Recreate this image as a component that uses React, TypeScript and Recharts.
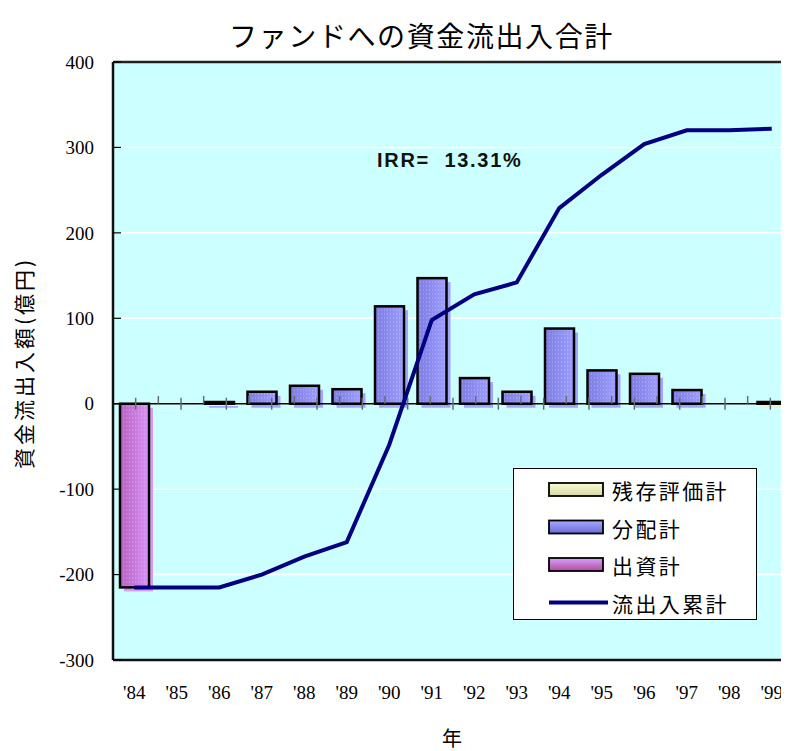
import React from "react";
import {
  ComposedChart,
  Bar,
  Line,
  XAxis,
  YAxis,
  CartesianGrid,
  ReferenceLine,
} from "recharts";

// 年 (categories)
const years = ["'84", "'85", "'86", "'87", "'88", "'89", "'90", "'91", "'92", "'93", "'94", "'95", "'96", "'97", "'98", "'99"];
// 出資計
const contributions = [-215, 0, 0, 0, 0, 0, 0, 0, 0, 0, 0, 0, 0, 0, 0, 0];
// 分配計
const distributions = [0, 0, 2, 14, 21, 17, 114, 147, 30, 14, 88, 39, 35, 16, 0, 0];
// 残存評価計
const residual = [0, 0, 0, 0, 0, 0, 0, 0, 0, 0, 0, 0, 0, 0, 0, 2];
// 流出入累計
const cumulative = [-215, -215, -215, -200, -179, -162, -48, 98, 128, 142, 229, 268, 304, 320, 320, 322];
const yTicks = [-300, -200, -100, 0, 100, 200, 300, 400];

const data = years.map((year, i) => ({
  year,
  contrib: contributions[i],
  dist: distributions[i],
  resid: residual[i],
  cum: cumulative[i],
}));

const CJK = '"Noto Sans CJK JP", "Noto Sans", sans-serif';
const SERIF = '"Liberation Serif", "DejaVu Serif", serif';

const makeShape = (fillId: string, shadow: string) => (props: any) => {
  const { x, y, width, height } = props;
  if (!height || Math.abs(height) < 0.01) return <g />;
  const top = height < 0 ? y + height : y;
  const h = Math.abs(height);
  return (
    <g>
      <rect x={x + 4} y={top + 4} width={width} height={h} fill={shadow} />
      <rect x={x} y={top} width={width} height={h} fill={`url(#${fillId})`} />
      <rect x={x} y={top} width={width} height={h} fill="url(#dots)" />
      <rect x={x} y={top} width={width} height={h} fill="none" stroke="#000" strokeWidth={2.5} />
    </g>
  );
};

const BlueBar = makeShape("gBlue", "#a4a4ff");
const PinkBar = makeShape("gPink", "#d79af2");
const CreamBar = makeShape("gCream", "#eeeec8");

const legendRows = [
  { name: "残存評価計", fill: "url(#lgCream)", kind: "bar" },
  { name: "分配計", fill: "url(#lgBlue)", kind: "bar" },
  { name: "出資計", fill: "url(#lgPink)", kind: "bar" },
  { name: "流出入累計", fill: "#000080", kind: "line" },
];

function LegendBox() {
  return (
    <div
      style={{
        position: "absolute",
        left: 505,
        top: 460,
        width: 244,
        height: 152,
        background: "#fff",
        border: "1px solid #000",
        boxSizing: "border-box",
      }}
    >
      <svg width={244} height={152} style={{ position: "absolute", left: 0, top: 0 }}>
        <defs>
          <linearGradient id="lgCream" x1="0" y1="1" x2="0" y2="0">
            <stop offset="0%" stopColor="#d8d8a0" />
            <stop offset="100%" stopColor="#fafad8" />
          </linearGradient>
          <linearGradient id="lgBlue" x1="0" y1="1" x2="0" y2="0">
            <stop offset="0%" stopColor="#6a6ad8" />
            <stop offset="100%" stopColor="#a8a8ff" />
          </linearGradient>
          <linearGradient id="lgPink" x1="0" y1="1" x2="0" y2="0">
            <stop offset="0%" stopColor="#b04c9c" />
            <stop offset="100%" stopColor="#d8a0ff" />
          </linearGradient>
        </defs>
        {legendRows.map((r, i) => {
          const cy = 21 + i * 37.5;
          return r.kind === "bar" ? (
            <rect key={r.name} x={35} y={cy - 7} width={54} height={13} fill={r.fill} stroke="#000" strokeWidth={1.8} />
          ) : (
            <line key={r.name} x1={35} x2={94} y1={cy} y2={cy} stroke={r.fill} strokeWidth={4} />
          );
        })}
        {legendRows.map((r, i) => (
          <text
            key={r.name + "t"}
            x={98}
            y={21 + i * 37.5}
            dominantBaseline="central"
            fontFamily={CJK}
            fontSize={21}
            letterSpacing={2.4}
            fill="#000"
          >
            {r.name}
          </text>
        ))}
      </svg>
    </div>
  );
}

export default function App() {
  const n = years.length;
  const boundaries = Array.from({ length: n - 1 }, (_, i) => i + 1);
  const centers = Array.from({ length: n }, (_, i) => i + 0.5);

  return (
    <div style={{ position: "relative", width: 781, height: 743, overflow: "hidden", background: "#fff" }}>
      <div
        style={{
          position: "absolute",
          left: 0,
          width: 781,
          top: 9,
          textAlign: "center",
          paddingLeft: 46,
          boxSizing: "border-box",
          fontFamily: CJK,
          fontSize: 28,
          letterSpacing: 1.6,
          lineHeight: "36px",
          color: "#000",
        }}
      >
        ファンドへの資金流出入合計
      </div>
      <ComposedChart
        width={790}
        height={743}
        data={data}
        margin={{ top: 54, right: 5, left: 0, bottom: 0 }}
        stackOffset="sign"
      >
        <defs>
          <linearGradient id="gBlue" x1="0" y1="0" x2="1" y2="0">
            <stop offset="0%" stopColor="#7c7ce2" />
            <stop offset="100%" stopColor="#9e9eff" />
          </linearGradient>
          <linearGradient id="gPink" x1="0" y1="0" x2="1" y2="0">
            <stop offset="0%" stopColor="#b862c0" />
            <stop offset="100%" stopColor="#d893f8" />
          </linearGradient>
          <linearGradient id="gCream" x1="0" y1="0" x2="1" y2="0">
            <stop offset="0%" stopColor="#e0e0a8" />
            <stop offset="100%" stopColor="#fafad8" />
          </linearGradient>
          <pattern id="dots" width="3" height="4" patternUnits="userSpaceOnUse">
            <rect x="1" y="1" width="1" height="2" fill="#ffffff" opacity="0.18" />
          </pattern>
        </defs>
        <CartesianGrid vertical={false} stroke="#ffffff" strokeWidth={1.5} fill="#ccffff" />
        <XAxis
          dataKey="year"
          height={91}
          tickLine={false}
          tickSize={0}
          tickMargin={26}
          axisLine={{ stroke: "#111", strokeWidth: 2.5 }}
          tick={{ fontFamily: SERIF, fontSize: 19, fill: "#000" }}
          interval={0}
        />
        <XAxis xAxisId="n" type="number" domain={[0, n]} hide />
        <YAxis
          width={105}
          domain={[-300, 400]}
          ticks={yTicks}
          interval={0}
          tickSize={-8}
          tickMargin={27}
          tickLine={{ stroke: "#000", strokeWidth: 1.2 }}
          axisLine={{ stroke: "#111", strokeWidth: 2.5 }}
          tick={{ fontFamily: SERIF, fontSize: 19, fill: "#000" }}
        />
        <Bar dataKey="contrib" stackId="a" barSize={29} shape={PinkBar} isAnimationActive={false} />
        <Bar dataKey="dist" stackId="a" barSize={29} shape={BlueBar} isAnimationActive={false} />
        <Bar dataKey="resid" stackId="a" barSize={29} shape={CreamBar} isAnimationActive={false} />
        <ReferenceLine y={0} stroke="#000" strokeWidth={1.5} />
        <ReferenceLine y={400} stroke="#222" strokeWidth={2.5} />
        {boundaries.map((b) => (
          <ReferenceLine
            key={"b" + b}
            xAxisId="n"
            segment={[{ x: b, y: 0 }, { x: b, y: 9 }]}
            stroke="#607070"
            strokeWidth={1.5}
          />
        ))}
        {centers.map((c) => (
          <ReferenceLine
            key={"c" + c}
            xAxisId="n"
            segment={[{ x: c, y: -7 }, { x: c, y: 7 }]}
            stroke="#607070"
            strokeWidth={1.5}
          />
        ))}
        <Line
          type="linear"
          dataKey="cum"
          stroke="#000080"
          strokeWidth={4}
          dot={false}
          isAnimationActive={false}
        />
      </ComposedChart>
      <div
        style={{
          position: "absolute",
          left: 369,
          top: 141,
          fontFamily: '"Liberation Sans", Arial, sans-serif',
          fontWeight: "bold",
          fontSize: 20,
          letterSpacing: 1.7,
          whiteSpace: "pre",
          color: "#111",
        }}
      >
        {"IRR=  13.31%"}
      </div>
      <div
        style={{
          position: "absolute",
          left: 15 - 130,
          top: 355 - 14,
          width: 260,
          textAlign: "center",
          transform: "rotate(-90deg)",
          fontFamily: CJK,
          fontSize: 21,
          letterSpacing: 3,
          lineHeight: "28px",
          color: "#000",
        }}
      >
        資金流出入額(億円)
      </div>
      <div
        style={{
          position: "absolute",
          left: 432,
          top: 716,
          width: 24,
          textAlign: "center",
          fontFamily: CJK,
          fontSize: 20,
          lineHeight: "28px",
          color: "#000",
        }}
      >
        年
      </div>
      <LegendBox />
    </div>
  );
}
